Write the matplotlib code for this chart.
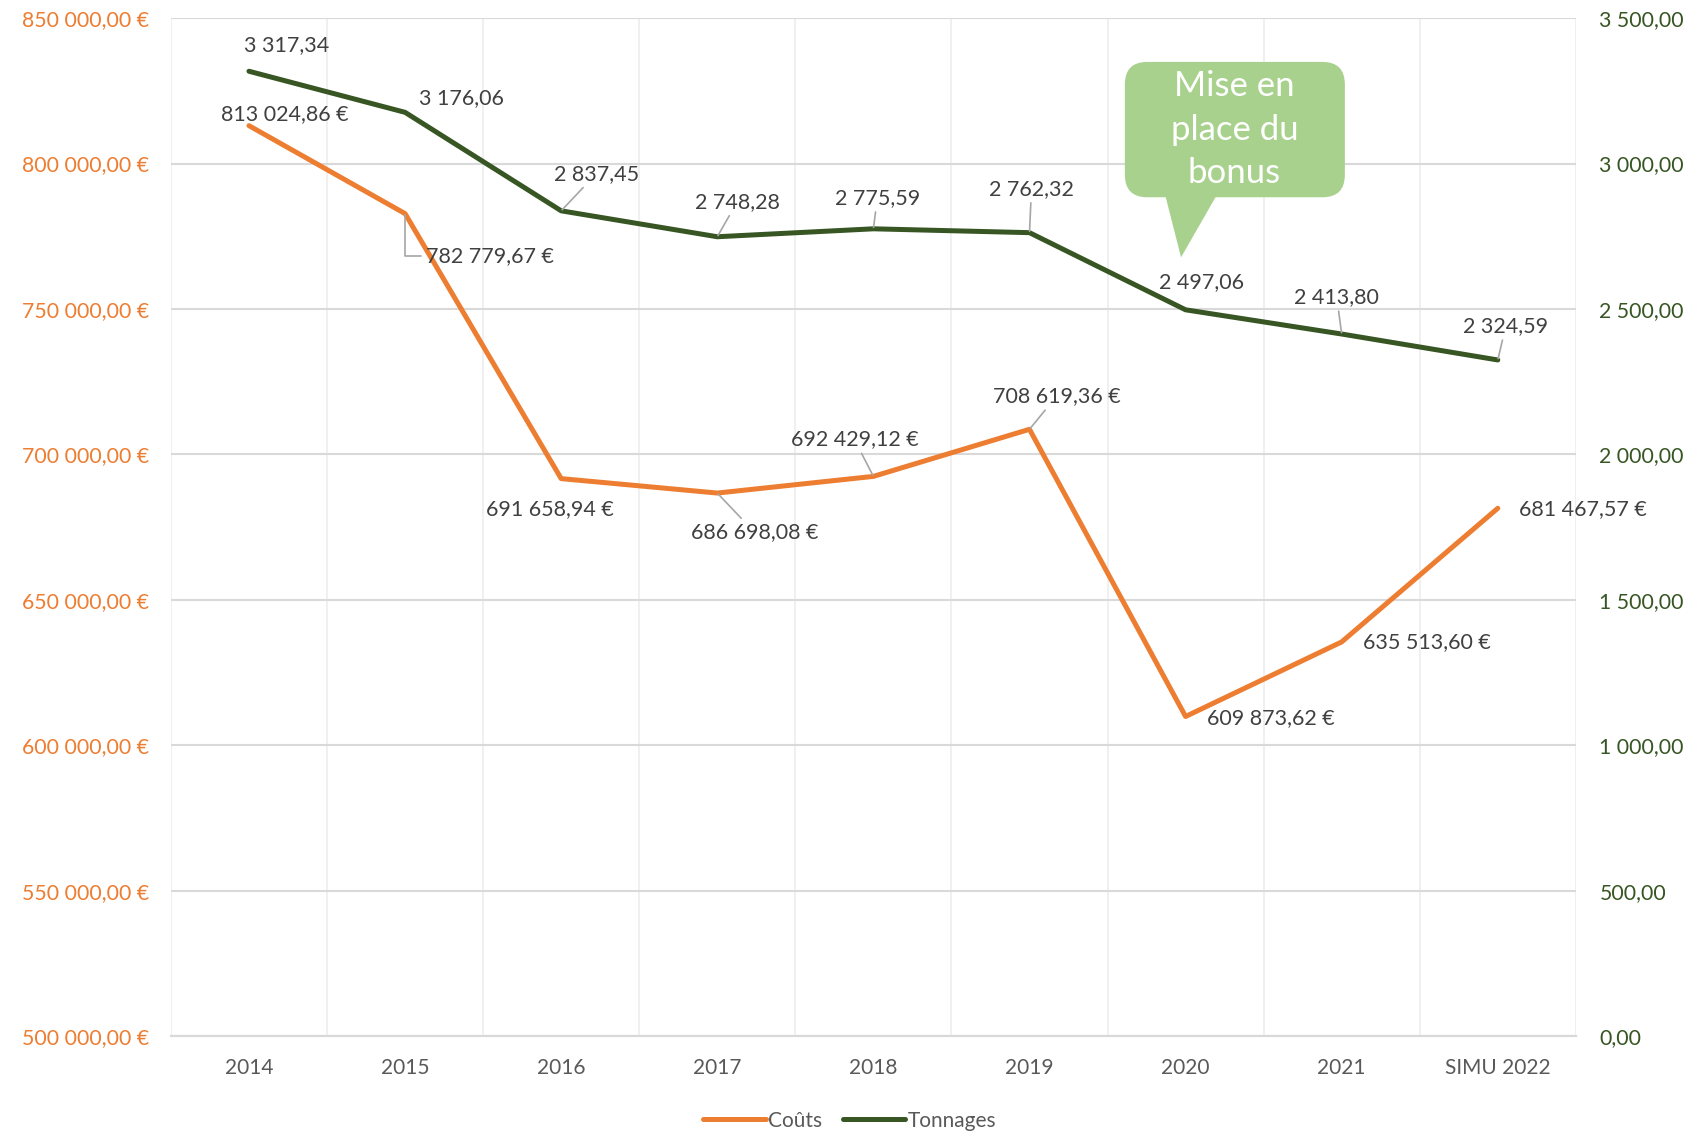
import matplotlib.pyplot as plt
from matplotlib.patches import FancyBboxPatch, Polygon

plt.rcParams['font.family'] = ['Lato', 'DejaVu Sans']

# Données
annees = ['2014', '2015', '2016', '2017', '2018', '2019', '2020', '2021', 'SIMU 2022']
couts = [813024.86, 782779.67, 691658.94, 686698.08, 692429.12, 708619.36, 609873.62, 635513.60, 681467.57]
tonnages = [3317.34, 3176.06, 2837.45, 2748.28, 2775.59, 2762.32, 2497.06, 2413.80, 2324.59]

orange = '#ED7D31'
vert = '#375623'
gris_txt = '#404040'


def fr(v, dec=2):
    s = f'{v:,.{dec}f}'
    return s.replace(',', ' ').replace('.', ',')


# décalages des étiquettes (pixels) et présence d'une ligne de rappel
off_t = [(38, 26), (56, 14), (35, 37), (20, 35), (4, 31), (2, 44), (16, 28), (-5, 37), (8, 34)]
lead_t = [False, False, True, True, True, True, False, True, True]
off_c = [(36, 12), (85, -42), (-11, -30), (37, -39), (-19, 37), (27, 33), (85, -2), (85, 0), (85, -1)]
lead_c = [False, 'elbow', False, True, True, True, False, False, False]

fig, ax = plt.subplots(figsize=(16.89, 11.33), dpi=100)
fig.subplots_adjust(left=0.1012, right=0.933, top=0.984, bottom=0.0856)
ax2 = ax.twinx()

x = list(range(len(annees)))
l1, = ax.plot(x, couts, color=orange, lw=3.6, solid_capstyle='round', label='Coûts', zorder=3)
l2, = ax2.plot(x, tonnages, color=vert, lw=3.6, solid_capstyle='round', label='Tonnages', zorder=3)

ax.set_xlim(-0.5, len(annees) - 0.5)
ax.set_ylim(500000, 850000)
ax2.set_ylim(0, 3500)
ax.set_yticks(range(500000, 850001, 50000))
ax.set_yticklabels([fr(v) + ' €' for v in range(500000, 850001, 50000)])
ax2.set_yticks(range(0, 3501, 500))
ax2.set_yticklabels([fr(v) for v in range(0, 3501, 500)])
ax.set_xticks(x)
ax.set_xticklabels(annees)

ax.tick_params(axis='y', colors=orange, labelsize=15.3, length=0, pad=16)
ax2.tick_params(axis='y', colors=vert, labelsize=15.3, length=0, pad=17)
ax.tick_params(axis='x', which='both', colors='#595959', labelsize=15, length=0, pad=16)

# grilles
ax.set_xticks([i - 0.5 for i in range(len(annees) + 1)] + [i for i in x], minor=True)
ax.grid(axis='x', which='minor', color='#EEEEEE', lw=1.2)
ax.grid(axis='y', which='major', color='#D9D9D9', lw=1.5)
ax.set_axisbelow(True)
for a in (ax, ax2):
    for s in ('top', 'left', 'right'):
        a.spines[s].set_visible(False)
    a.spines['bottom'].set_color('#D9D9D9')
    a.spines['bottom'].set_linewidth(1.5)

# étiquettes de données
for i, v in enumerate(tonnages):
    ap = dict(arrowstyle='-', color='#A6A6A6', lw=1.2, shrinkA=1, shrinkB=1) if lead_t[i] else None
    ax2.annotate(fr(v), (i, v), xytext=off_t[i], textcoords='offset pixels',
                 ha='center', va='center', fontsize=15.5, color=gris_txt, arrowprops=ap, zorder=4)
for i, v in enumerate(couts):
    ap = None
    if lead_c[i] == 'elbow':
        ap = dict(arrowstyle='-', color='#A6A6A6', lw=1.2, shrinkA=2, shrinkB=1,
                  connectionstyle='angle,angleA=180,angleB=90,rad=0')
    elif lead_c[i]:
        ap = dict(arrowstyle='-', color='#A6A6A6', lw=1.2, shrinkA=1, shrinkB=1)
    ax2.annotate(fr(v) + ' €', (i, v), xycoords=ax.transData, xytext=off_c[i],
                 textcoords='offset pixels', ha='center', va='center', fontsize=15.5,
                 color=gris_txt, arrowprops=ap, zorder=4)

# bulle "Mise en place du bonus"
bulle = '#A9D18E'
asp = 1405 / 1018
box = FancyBboxPatch((0.679, 0.824), 0.1566, 0.133, boxstyle='round,pad=0,rounding_size=0.016',
                     mutation_aspect=asp, transform=ax2.transAxes, fc=bulle, ec='none', zorder=5)
ax2.add_patch(box)
ax2.add_patch(Polygon([(0.707, 0.83), (0.746, 0.83), (0.719, 0.765)], closed=True,
                      transform=ax2.transAxes, fc=bulle, ec='none', zorder=5))
ax2.text(0.757, 0.8905, 'Mise en\nplace du\nbonus', transform=ax2.transAxes, ha='center', va='center',
         fontsize=25, color='white', linespacing=1.45, zorder=6)

leg = fig.legend(handles=[l1, l2], loc='center', bbox_to_anchor=(0.503, 0.011), ncol=2, frameon=False,
                 fontsize=15, handlelength=3.0, columnspacing=1.0, handletextpad=0.1)
for t in leg.get_texts():
    t.set_color('#595959')

fig.savefig('out.png', dpi=100)
